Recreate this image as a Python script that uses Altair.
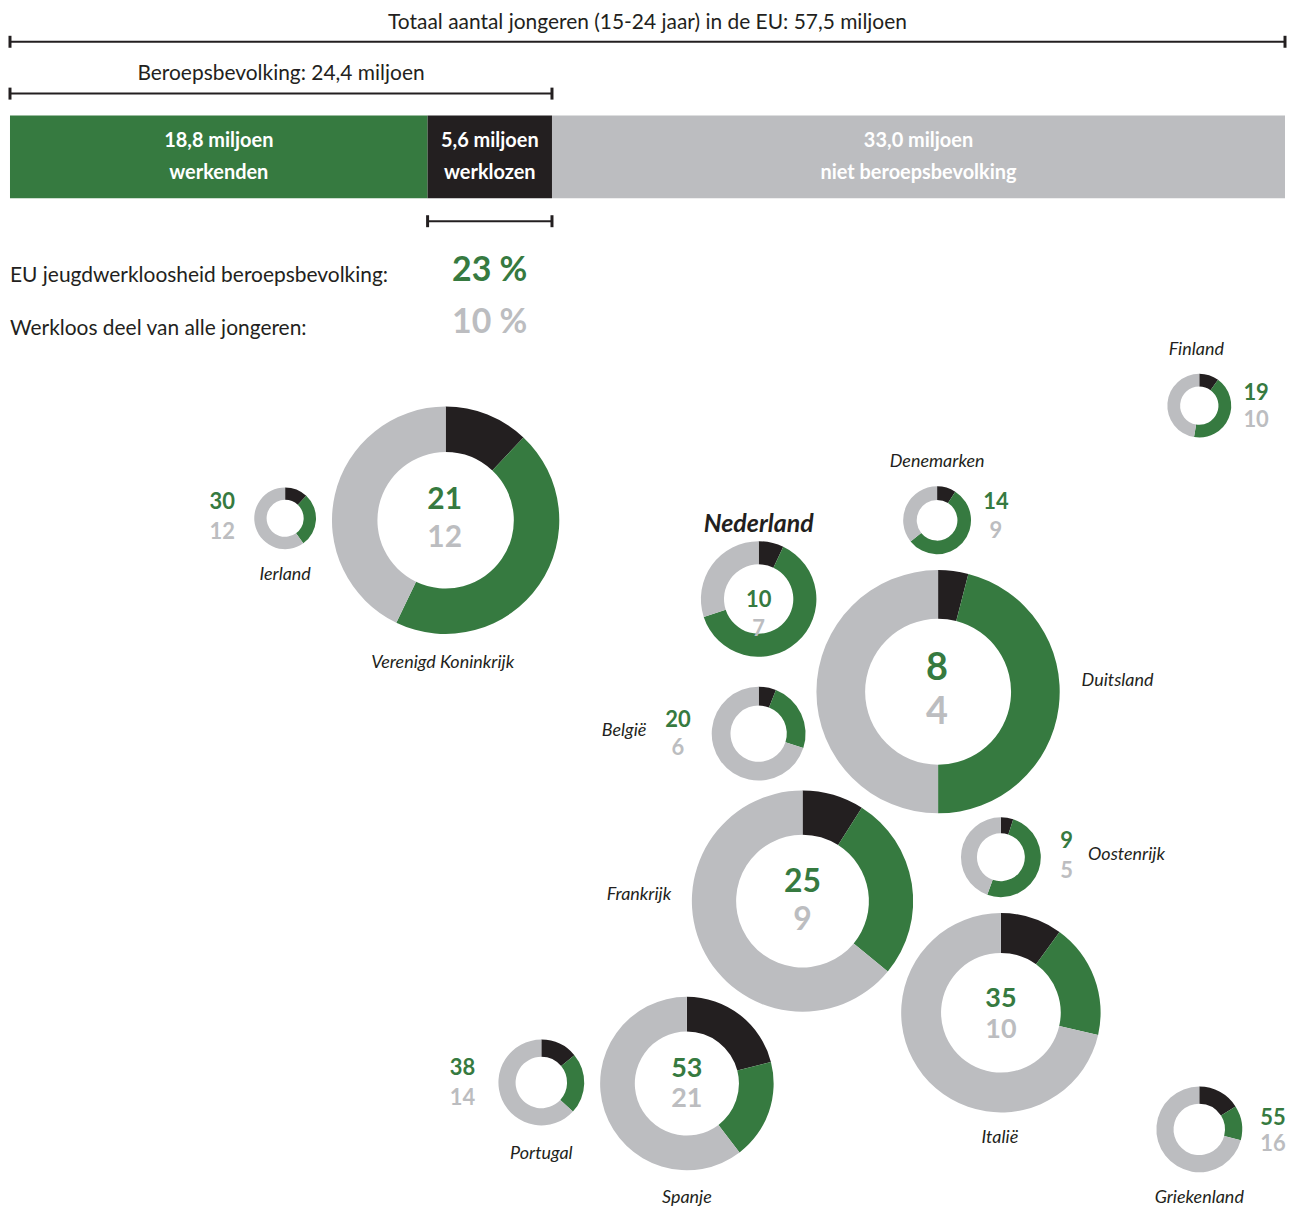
import altair as alt
import pandas as pd
import numpy as np

GREEN = "#367a40"
BLACK = "#231f20"
GREY = "#bcbdc0"
FONT = "Lato"

# ---------------- data ----------------
# EU youth (15-24) in millions
bar_names = ["werkenden", "werklozen", "niet beroepsbevolking"]
bar_values = [18.8, 5.6, 33.0]
bar_texts = ["18,8 miljoen\nwerkenden", "5,6 miljoen\nwerklozen", "33,0 miljoen\nniet beroepsbevolking"]
total_text = "Totaal aantal jongeren (15-24 jaar) in de EU: 57,5 miljoen"
lf_text = "Beroepsbevolking: 24,4 miljoen"
eu_rate = 23    # % jeugdwerkloosheid beroepsbevolking
eu_share = 10   # % werkloos deel van alle jongeren

countries = ["Finland", "Denemarken", "Nederland", "Ierland", "Verenigd Koninkrijk",
             "Duitsland", "België", "Oostenrijk", "Frankrijk", "Italië",
             "Portugal", "Spanje", "Griekenland"]
rate = [19, 14, 10, 30, 21, 8, 20, 9, 25, 35, 38, 53, 55]      # werkloosheid in beroepsbevolking (%)
share = [10, 9, 7, 12, 12, 4, 6, 5, 9, 10, 14, 21, 16]         # werkloos deel van alle jongeren (%)
youth = [0.62, 0.70, 2.03, 0.58, 7.86, 9.0, 1.34, 0.97, 7.45, 6.05, 1.12, 4.58, 1.12]  # jongeren (mln)

# ---------------- layout (page pixel coordinates) ----------------
cx = [1201, 938, 759, 284, 445, 939, 759, 1002, 803, 1002, 541, 687, 1201]
cy = [405, 520, 599, 518, 520, 692, 734, 858, 902, 1014, 1084, 1085, 1131]
lx = [1198, 938, 759, 284, 442, 1119, 624, 1128, 639, 1001, 541, 687, 1201]
ly = [349, 462, 524, 575, 663, 681, 731, 856, 896, 1140, 1156, 1200, 1200]
nx = [1258, 997, 759, 221, 444, 938, 678, 1068, 803, 1002, 462, 687, 1275]
ny1 = [392, 502, 600, 502, 500, 669, 720, 842, 883, 1000, 1069, 1070, 1120]
ny2 = [419, 531, 629, 532, 538, 713, 748, 872, 921, 1031, 1100, 1101, 1146]
nsize = [22, 22, 22, 22, 30, 38, 22, 22, 32, 27, 22, 27, 22]

W, H = 1279, 1195
xpix = alt.Scale(domain=[8, 8 + W], range=[0, W])
ypix = alt.Scale(domain=[8, 8 + H], range=[0, H])

# ---------------- top bar ----------------
starts = np.concatenate([[0], np.cumsum(bar_values)[:-1]])
ends = np.cumsum(bar_values)
bar_df = pd.DataFrame({
    "name": bar_names, "start": starts, "end": ends,
    "mid": (starts + ends) / 2, "label": bar_texts,
    "color": [GREEN, BLACK, GREY],
})
total = float(ends[-1])
lf = bar_values[0] + bar_values[1]
xm = alt.Scale(domain=[0, total], range=[0, W])

bracket_df = pd.DataFrame({
    "x0": [0, 0, bar_values[0]],
    "x1": [total, lf, lf],
    "y": [40, 92, 220],
})
bracket_df["y0"] = bracket_df["y"] - 6
bracket_df["y1"] = bracket_df["y"] + 6
tick_df = pd.concat([
    bracket_df[["x0", "y0", "y1"]].rename(columns={"x0": "x"}),
    bracket_df[["x1", "y0", "y1"]].rename(columns={"x1": "x"}),
])

head_df = pd.DataFrame({
    "x": [total / 2, lf / 2],
    "y": [27, 78],
    "t": [total_text, lf_text],
})

bars = alt.Chart(bar_df).mark_rect().encode(
    x=alt.X("start:Q", scale=xm, axis=None), x2="end:Q",
    y=alt.value(114 - 8), y2=alt.value(197 - 8),
    color=alt.Color("color:N", scale=None),
)
bar_text = alt.Chart(bar_df).mark_text(
    font=FONT, fontSize=20, fontWeight="bold", color="white",
    lineBreak="\n", lineHeight=32, baseline="middle", align="center",
).encode(
    x=alt.X("mid:Q", scale=xm, axis=None),
    y=alt.value(140 - 8),
    text="label:N",
)
hlines = alt.Chart(bracket_df).mark_rule(color=BLACK, strokeWidth=2).encode(
    x=alt.X("x0:Q", scale=xm, axis=None), x2="x1:Q",
    y=alt.Y("y:Q", scale=ypix, axis=None),
)
vticks = alt.Chart(tick_df).mark_rule(color=BLACK, strokeWidth=3).encode(
    x=alt.X("x:Q", scale=xm, axis=None),
    y=alt.Y("y0:Q", scale=ypix, axis=None), y2="y1:Q",
)
head_text = alt.Chart(head_df).mark_text(
    font=FONT, fontSize=21, color=BLACK, baseline="alphabetic", align="center",
).encode(
    x=alt.X("x:Q", scale=xm, axis=None),
    y=alt.Y("y:Q", scale=ypix, axis=None),
    text="t:N",
)
bar_group = alt.layer(bars, bar_text, hlines, vticks, head_text)

# ---------------- EU summary text ----------------
stat_df = pd.DataFrame({
    "x": [8, 8], "y": [281, 334],
    "t": ["EU jeugdwerkloosheid beroepsbevolking:", "Werkloos deel van alle jongeren:"],
})
statnum_df = pd.DataFrame({
    "x": [527, 527], "y": [270, 322],
    "t": [f"{eu_rate} %", f"{eu_share} %"],
    "color": [GREEN, GREY],
})
stat_text = alt.Chart(stat_df).mark_text(
    font=FONT, fontSize=21, color=BLACK, baseline="alphabetic", align="left",
).encode(
    x=alt.X("x:Q", scale=xpix, axis=None),
    y=alt.Y("y:Q", scale=ypix, axis=None),
    text="t:N",
)
stat_num = alt.Chart(statnum_df).mark_text(
    font=FONT, fontSize=34, fontWeight="bold", baseline="middle", align="right",
).encode(
    x=alt.X("x:Q", scale=xpix, axis=None),
    y=alt.Y("y:Q", scale=ypix, axis=None),
    text="t:N",
    color=alt.Color("color:N", scale=None),
)

# ---------------- donuts ----------------
rows = []
for i, c in enumerate(countries):
    black = share[i] / 100
    labour = share[i] / rate[i]
    parts = [(black, BLACK), (labour - black, GREEN), (1 - labour, GREY)]
    acc = 0.0
    for frac, col in parts:
        rows.append({
            "country": c, "cx": cx[i], "cy": cy[i],
            "t0": acc * 2 * np.pi, "t1": (acc + frac) * 2 * np.pi,
            "youth": youth[i], "inner": youth[i] * 0.36, "color": col,
        })
        acc += frac
seg = pd.DataFrame(rows)

arcs = alt.Chart(seg).mark_arc().encode(
    x=alt.X("cx:Q", scale=xpix, axis=None),
    y=alt.Y("cy:Q", scale=ypix, axis=None),
    theta=alt.Theta("t0:Q", scale=None), theta2="t1:Q",
    radius=alt.Radius("youth:Q", scale=alt.Scale(type="sqrt", domain=[0, 9], range=[0, 122])),
    radius2="inner:Q",
    color=alt.Color("color:N", scale=None),
)

lab_df = pd.DataFrame({"country": countries, "x": lx, "y": ly})
labels = alt.Chart(lab_df[lab_df.country != "Nederland"]).mark_text(
    font=FONT, fontSize=18, fontStyle="italic", color=BLACK, baseline="middle", align="center",
).encode(
    x=alt.X("x:Q", scale=xpix, axis=None),
    y=alt.Y("y:Q", scale=ypix, axis=None),
    text="country:N",
)
nl_label = alt.Chart(lab_df[lab_df.country == "Nederland"]).mark_text(
    font=FONT, fontSize=25, fontStyle="italic", fontWeight="bold", color=BLACK,
    baseline="middle", align="center",
).encode(
    x=alt.X("x:Q", scale=xpix, axis=None),
    y=alt.Y("y:Q", scale=ypix, axis=None),
    text="country:N",
)

num_df = pd.concat([
    pd.DataFrame({"x": nx, "y": ny1, "t": [str(v) for v in rate], "color": GREEN, "size": nsize}),
    pd.DataFrame({"x": nx, "y": ny2, "t": [str(v) for v in share], "color": GREY, "size": nsize}),
])
nums = alt.Chart(num_df).mark_text(
    font=FONT, fontWeight="bold", baseline="middle", align="center",
).encode(
    x=alt.X("x:Q", scale=xpix, axis=None),
    y=alt.Y("y:Q", scale=ypix, axis=None),
    text="t:N",
    color=alt.Color("color:N", scale=None),
    size=alt.Size("size:Q", scale=None),
)

pix_group = alt.layer(stat_text, stat_num, arcs, labels, nl_label, nums)

chart = alt.layer(bar_group, pix_group).resolve_scale(x="independent").properties(
    width=W, height=H, padding=0
).configure_view(stroke=None)

chart.save("out.html", embed_options={"renderer": "svg", "actions": False})
